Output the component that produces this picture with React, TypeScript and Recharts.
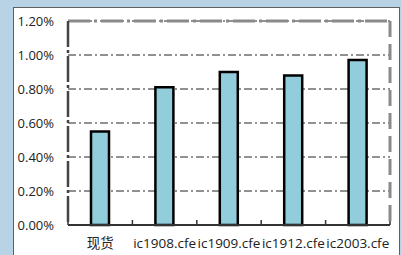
import React from "react";
import { BarChart, Bar, XAxis, YAxis, CartesianGrid, ReferenceLine } from "recharts";

const categories = ["现货", "ic1908.cfe", "ic1909.cfe", "ic1912.cfe", "ic2003.cfe"];
const values = [0.0055, 0.0081, 0.009, 0.0088, 0.0097];
const yTicks = [0, 0.002, 0.004, 0.006, 0.008, 0.01, 0.012];
const boundaryTicks = [0, 1, 2, 3, 4, 5];

const data = categories.map((name, i) => ({ name, value: values[i], pos: i + 0.5 }));

const FONT = "'Open Sans', 'Noto Sans CJK SC', sans-serif";

export default function App() {
  return (
    <div style={{ position: "absolute", left: 0, top: 0, width: 401, height: 255, background: "#b8d3e5", overflow: "hidden" }}>
      <div
        style={{
          position: "absolute",
          left: 13,
          top: 7,
          width: 387,
          height: 270,
          boxSizing: "border-box",
          background: "#ffffff",
          border: "1px solid #606060",
        }}
      />
      <div style={{ position: "absolute", left: 0, top: 0 }}>
        <BarChart
          width={401}
          height={255}
          data={data}
          margin={{ top: 21, right: 10, left: 8, bottom: 0 }}
          barCategoryGap={0}
        >
          <CartesianGrid vertical={false} stroke="#222" strokeDasharray="8 3 2 3" strokeWidth={1} />
          <XAxis
            xAxisId="b"
            dataKey="pos"
            type="number"
            domain={[0, 5]}
            ticks={boundaryTicks}
            interval={0}
            allowDataOverflow
            height={1}
            mirror
            tick={{ fontSize: 1, fill: "none" }}
            tickFormatter={() => ""}
            tickSize={5}
            tickLine={{ stroke: "#333", strokeWidth: 1.5 }}
            axisLine={false}
          />
          <XAxis
            dataKey="name"
            height={30}
            axisLine={{ stroke: "#333", strokeWidth: 2 }}
            tickLine={false}
            tickMargin={7}
            interval={0}
            tick={{ fill: "#222", fontSize: 13.5, fontFamily: FONT }}
          />
          <YAxis
            width={60}
            domain={[0, 0.012]}
            ticks={yTicks}
            tickFormatter={(v: number) => (v * 100).toFixed(2) + "%"}
            tickLine={false}
            tickMargin={8}
            axisLine={{ stroke: "#444", strokeWidth: 2.5, strokeDasharray: "26 3 3 3" }}
            tick={{ fill: "#222", fontSize: 13, fontFamily: FONT }}
          />
          <YAxis
            yAxisId="r"
            orientation="right"
            width={1}
            domain={[0, 0.012]}
            tick={false}
            tickLine={false}
            axisLine={{ stroke: "#8a8a8a", strokeWidth: 3, strokeDasharray: "16 7" }}
          />
          <ReferenceLine y={0.012} stroke="#8a8a8a" strokeWidth={3} strokeDasharray="22 4 3 4" />
          <Bar dataKey="value" fill="#92cddc" stroke="#000" strokeWidth={2.5} barSize={18} isAnimationActive={false} />
        </BarChart>
      </div>
    </div>
  );
}
